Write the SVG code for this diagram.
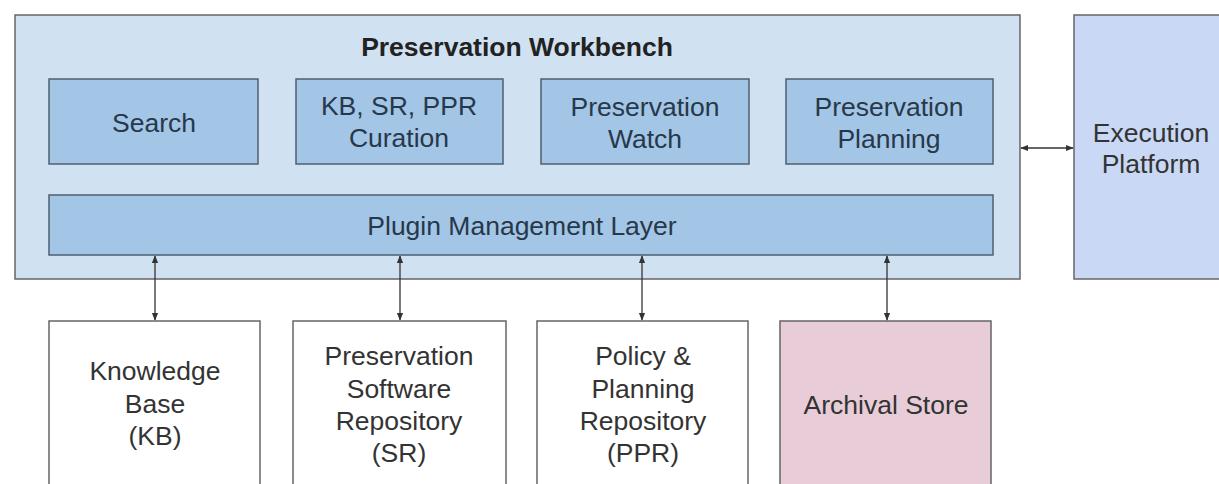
<svg xmlns="http://www.w3.org/2000/svg" width="1219" height="484" viewBox="0 0 1219 484">
  <defs>
    <marker id="ah" viewBox="0 0 10 10" refX="9" refY="5" markerWidth="6" markerHeight="6" orient="auto-start-reverse">
      <path d="M0,1 L10,5 L0,9 z" fill="#333"/>
    </marker>
    <style>
      .wb { fill: #d0e1f1; stroke: #666; stroke-width: 1.5; }
      .mod { fill: #a3c5e6; stroke: #4f5f6f; stroke-width: 1.5; }
      .ext { fill: #c9d8f5; stroke: #666; stroke-width: 1.5; }
      .repo { fill: #ffffff; stroke: #666; stroke-width: 1.5; }
      .store { fill: #e8cdd9; stroke: #666; stroke-width: 1.5; }
      text { font-family: "Liberation Sans", Arial, sans-serif; font-size: 26.5px; fill: #333; text-anchor: middle; }
      .mod-label { fill: #27384a; }
      .title { font-weight: bold; fill: #222; font-size: 26.5px; }
      .conn { stroke: #333; stroke-width: 1.3; fill: none; marker-start: url(#ah); marker-end: url(#ah); }
    </style>
  </defs>
  <rect width="1219" height="484" fill="#ffffff"/>

  <g id="workbench">
    <rect class="wb" x="15" y="15" width="1005" height="264"/>
    <text class="title" x="517" y="56">Preservation Workbench</text>
  </g>
  <g id="search">
    <rect class="mod" x="49" y="79" width="209" height="85"/>
    <text class="mod-label" x="154" y="132">Search</text>
  </g>
  <g id="curation">
    <rect class="mod" x="296" y="79" width="207" height="85"/>
    <text class="mod-label" x="399" y="115">KB, SR, PPR</text>
    <text class="mod-label" x="399" y="147">Curation</text>
  </g>
  <g id="watch">
    <rect class="mod" x="541" y="79" width="208" height="85"/>
    <text class="mod-label" x="645" y="116">Preservation</text>
    <text class="mod-label" x="645" y="148">Watch</text>
  </g>
  <g id="planning">
    <rect class="mod" x="786" y="79" width="207" height="85"/>
    <text class="mod-label" x="889" y="116">Preservation</text>
    <text class="mod-label" x="889" y="148">Planning</text>
  </g>
  <g id="plugin-layer">
    <rect class="mod" x="49" y="195" width="944" height="60"/>
    <text class="mod-label" x="522" y="235">Plugin Management Layer</text>
  </g>
  <g id="execution-platform">
    <rect class="ext" x="1074" y="15" width="160" height="264"/>
    <text x="1151" y="142">Execution</text>
    <text x="1151" y="173">Platform</text>
  </g>
  <g id="knowledge-base">
    <rect class="repo" x="49" y="321" width="211" height="170"/>
    <text x="155" y="380">Knowledge</text>
    <text x="155" y="413">Base</text>
    <text x="155" y="445">(KB)</text>
  </g>
  <g id="software-repository">
    <rect class="repo" x="293" y="321" width="213" height="170"/>
    <text x="399" y="365">Preservation</text>
    <text x="399" y="398">Software</text>
    <text x="399" y="430">Repository</text>
    <text x="399" y="462">(SR)</text>
  </g>
  <g id="policy-repository">
    <rect class="repo" x="537" y="321" width="211" height="170"/>
    <text x="643" y="365">Policy &amp;</text>
    <text x="643" y="398">Planning</text>
    <text x="643" y="430">Repository</text>
    <text x="643" y="462">(PPR)</text>
  </g>
  <g id="archival-store">
    <rect class="store" x="780" y="321" width="211" height="170"/>
    <text x="886" y="414">Archival Store</text>
  </g>

  <g id="connectors">
    <line class="conn" x1="155" y1="256" x2="155" y2="320"/>
    <line class="conn" x1="400" y1="256" x2="400" y2="320"/>
    <line class="conn" x1="642" y1="256" x2="642" y2="320"/>
    <line class="conn" x1="887" y1="256" x2="887" y2="320"/>
    <line class="conn" x1="1021" y1="148" x2="1073" y2="148"/>
  </g>
</svg>
